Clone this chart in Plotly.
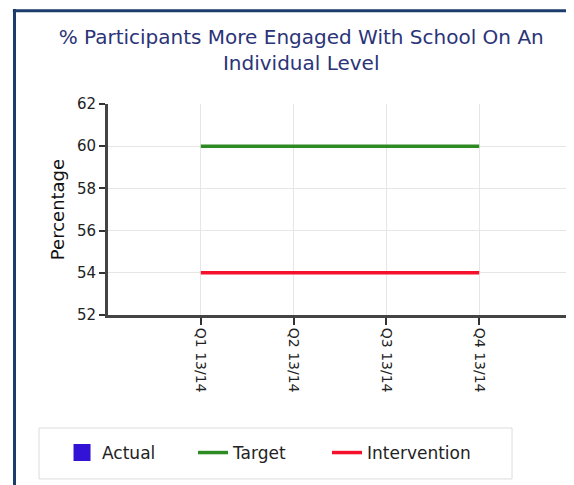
import plotly.graph_objects as go

quarters = ['Q1 13/14', 'Q2 13/14', 'Q3 13/14', 'Q4 13/14']
actual = [None, None, None, None]
target = [60, 60, 60, 60]
intervention = [54, 54, 54, 54]

fig = go.Figure()

fig.add_trace(go.Bar(x=quarters, y=actual, name='Actual', legend='legend',
                     marker=dict(color='#3212d4', line=dict(color='#3212d4', width=6))))
fig.add_trace(go.Scatter(x=quarters, y=target, name='Target', mode='lines', legend='legend2',
                         line=dict(color='#2e8a22', width=3.5)))
fig.add_trace(go.Scatter(x=quarters, y=intervention, name='Intervention', mode='lines', legend='legend3',
                         line=dict(color='#f5102c', width=3.5)))

# frame around the chart (top and left edges visible)
frame = '#1c3c6c'
fig.add_shape(type='line', xref='paper', yref='paper', x0=-0.205, x1=1.01, y0=1.442, y1=1.442,
              line=dict(color=frame, width=3))
fig.add_shape(type='line', xref='paper', yref='paper', x0=-0.2015, x1=-0.2015, y0=1.45, y1=-0.9,
              line=dict(color=frame, width=3))
# light right-hand gridline
fig.add_shape(type='line', xref='paper', yref='paper', x0=1, x1=1, y0=0, y1=1,
              line=dict(color='#e2e2e2', width=1))
# legend box
fig.add_shape(type='rect', xref='paper', yref='paper', x0=-0.1487, x1=0.8707, y0=-0.5355, y1=-0.777,
              line=dict(color='#dcdcdc', width=1))

leg = dict(orientation='h', y=-0.654, xanchor='left', yanchor='middle', borderwidth=0,
           bgcolor='rgba(0,0,0,0)', font=dict(size=17, color='#222'))

fig.update_layout(
    width=566, height=477,
    margin=dict(l=100, r=2, t=96, b=170),
    paper_bgcolor='white', plot_bgcolor='white',
    font=dict(family='DejaVu Sans', size=13, color='#222'),
    title=dict(text='% Participants More Engaged With School On An<br>Individual Level',
               xref='container', x=0.518, xanchor='center',
               yref='container', y=0.924, yanchor='top',
               font=dict(size=20, color='#2b3478')),
    showlegend=True,
    legend=dict(leg, x=-0.0991),
    legend2=dict(leg, x=0.1832),
    legend3=dict(leg, x=0.472),
    bargap=0.3,
)

fig.update_xaxes(type='category', range=[-1, 4], showgrid=True, gridcolor='#e6e6e6',
                 showline=True, linecolor='#444', linewidth=3,
                 ticks='outside', ticklen=7, tickcolor='#333', tickwidth=2,
                 tickangle=90, tickfont=dict(size=14, color='#222'))
fig.update_yaxes(range=[52, 62], dtick=2, showgrid=True, gridcolor='#e6e6e6',
                 showline=True, linecolor='#444', linewidth=3, zeroline=False,
                 ticks='outside', ticklen=6, tickcolor='#333', tickwidth=2,
                 title=dict(text='Percentage', font=dict(size=18, color='#111'), standoff=8),
                 tickfont=dict(size=15, color='#222'))

fig.write_html('out.html')
